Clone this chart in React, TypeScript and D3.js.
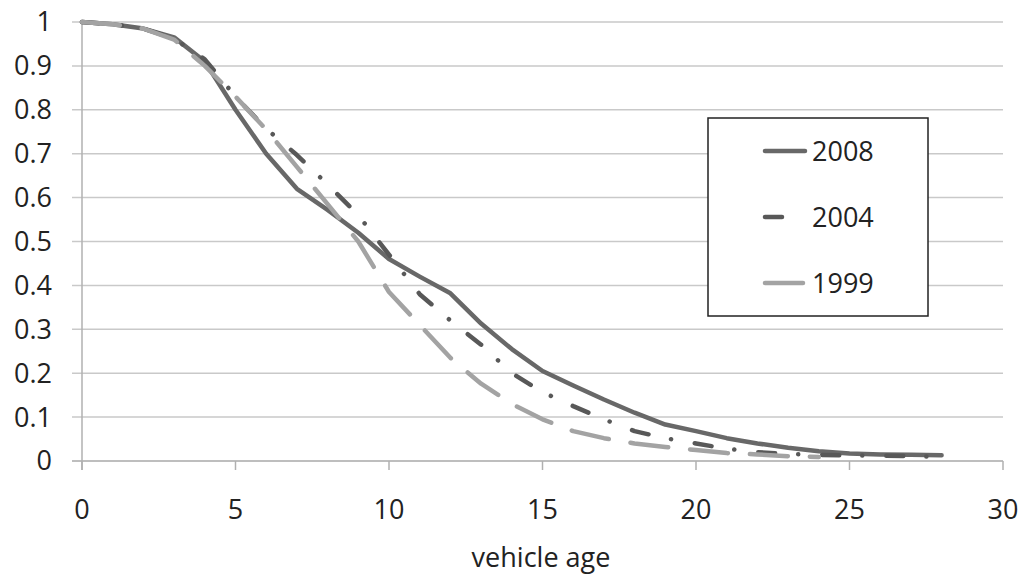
import React from "react";
import * as d3 from "d3";

const ages = d3.range(0, 29);
const series2008 = [1, 0.995, 0.985, 0.965, 0.91, 0.8, 0.7, 0.62, 0.572, 0.52, 0.46, 0.42, 0.382, 0.313, 0.255, 0.205, 0.172, 0.14, 0.11, 0.083, 0.068, 0.052, 0.04, 0.03, 0.022, 0.017, 0.015, 0.014, 0.013];
const series2004 = [1, 0.995, 0.985, 0.962, 0.915, 0.83, 0.757, 0.697, 0.63, 0.56, 0.47, 0.38, 0.32, 0.265, 0.2, 0.157, 0.125, 0.095, 0.068, 0.052, 0.04, 0.028, 0.02, 0.016, 0.014, 0.013, 0.012, 0.011, 0.01];
const series1999 = [1, 0.995, 0.985, 0.96, 0.9, 0.83, 0.755, 0.67, 0.585, 0.5, 0.385, 0.31, 0.235, 0.176, 0.13, 0.095, 0.068, 0.052, 0.04, 0.032, 0.025, 0.018, 0.015, 0.011, 0.009];
const seriesNames = ["2008", "2004", "1999"];
const xTicks = [0, 5, 10, 15, 20, 25, 30];
const yTicks = [0, 0.1, 0.2, 0.3, 0.4, 0.5, 0.6, 0.7, 0.8, 0.9, 1];
const xLabel = "vehicle age";

const FONT = "'Open Sans', sans-serif";

export default function App() {
  const x = d3.scaleLinear().domain([0, 30]).range([82, 1003]);
  const y = d3.scaleLinear().domain([0, 1]).range([461, 22]);
  const line = d3.line<[number, number]>().x((d) => x(d[0])).y((d) => y(d[1]));

  const styles = [
    { color: "#686868", dash: "none" },
    { color: "#585858", dash: "17 23 0.1 24" },
    { color: "#a3a3a3", dash: "38 22" },
  ];
  const data = [series2008, series2004, series1999];

  return (
    <svg
      width={1026}
      height={577}
      style={{ position: "absolute", left: 0, top: 0, background: "#fff" }}
      fontFamily={FONT}
    >
      <rect x={0} y={0} width={1026} height={577} fill="#fff" />
      {yTicks.map((t) => (
        <g key={"y" + t}>
          <line x1={72} x2={1003} y1={y(t)} y2={y(t)} stroke={t === 0 ? "#a8a8a8" : "#c9c9c9"} strokeWidth={1.5} />
          <text x={52} y={y(t)} dy="0.35em" textAnchor="end" fontSize={27} fill="#222">
            {t}
          </text>
        </g>
      ))}
      <line x1={82} x2={82} y1={22} y2={470} stroke="#b0b0b0" strokeWidth={1.5} />
      {xTicks.map((t) => (
        <g key={"x" + t}>
          <line x1={x(t)} x2={x(t)} y1={461} y2={470} stroke="#b0b0b0" strokeWidth={1.5} />
          <text x={x(t)} y={519} textAnchor="middle" fontSize={27} fill="#222">
            {t}
          </text>
        </g>
      ))}
      <text x={541} y={567} textAnchor="middle" fontSize={27} fill="#222">
        {xLabel}
      </text>
      {data.map((s, i) => (
        <path
          key={seriesNames[i]}
          d={line(s.map((v, k) => [ages[k], v] as [number, number])) || ""}
          fill="none"
          stroke={styles[i].color}
          strokeWidth={4.5}
          strokeLinecap="round"
          strokeLinejoin="round"
          strokeDasharray={styles[i].dash}
        />
      ))}
      <rect x={708} y={118} width={220} height={198} fill="#fff" stroke="#222" strokeWidth={1.5} />
      {seriesNames.map((n, i) => {
        const ly = 151 + i * 66;
        return (
          <g key={"lg" + n}>
            <line
              x1={765}
              x2={805}
              y1={ly}
              y2={ly}
              stroke={styles[i].color}
              strokeWidth={4.5}
              strokeLinecap="round"
              strokeDasharray={styles[i].dash}
            />
            <text x={812} y={ly} dy="0.36em" fontSize={27} fill="#222">
              {n}
            </text>
          </g>
        );
      })}
    </svg>
  );
}
